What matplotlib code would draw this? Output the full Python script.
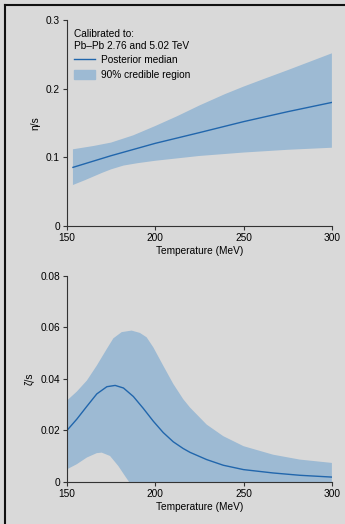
import matplotlib
matplotlib.use('Agg')
import matplotlib.pyplot as plt
from matplotlib.lines import Line2D
from matplotlib.patches import Patch

plt.rcParams['font.family'] = ['Liberation Sans', 'DejaVu Sans']

# eta/s (верхняя панель)
T_eta_med = [153.4, 175, 200, 225, 250, 275, 300]
eta_med = [0.0854, 0.1024, 0.1204, 0.136, 0.152, 0.1665, 0.180]
T_eta_hi = [153.4, 165, 175, 187.5, 200, 212.5, 225, 239.4, 250, 262, 275, 300]
eta_hi = [0.1117, 0.1165, 0.1215, 0.132, 0.1456, 0.160, 0.1755, 0.192, 0.2030, 0.2146, 0.227, 0.2515]
T_eta_lo = [153.4, 160, 165, 170, 175, 182, 190, 200, 225, 250, 275, 300]
eta_lo = [0.0597, 0.0665, 0.072, 0.0775, 0.0825, 0.088, 0.0915, 0.095, 0.102, 0.107, 0.111, 0.114]

# zeta/s (нижняя панель)
T_zeta_med = [150, 155.6, 161.3, 166.9, 172.6, 177.3, 182, 187.6, 193.2, 198.9, 204.5, 210.2, 215.8,
              219.7, 229.1, 238.5, 250, 266.7, 281.8, 300]
zeta_med = [0.0200, 0.0244, 0.0294, 0.0342, 0.0370, 0.0375, 0.0365, 0.0332, 0.0286, 0.0236, 0.0192,
            0.0156, 0.0130, 0.0115, 0.0087, 0.0065, 0.0048, 0.0035, 0.0026, 0.0019]
T_zeta_hi = [150, 155.6, 161.3, 166.9, 172.6, 176.3, 181, 186.6, 191.3, 195.1, 198.9, 204.5, 210.2,
             215.8, 219.7, 229.1, 238.5, 250, 266.7, 281.8, 300]
zeta_hi = [0.0316, 0.0351, 0.0394, 0.0452, 0.0517, 0.0558, 0.0582, 0.0588, 0.0579, 0.0562, 0.0523,
           0.0452, 0.0381, 0.0322, 0.0289, 0.0223, 0.0178, 0.0139, 0.0106, 0.0087, 0.0074]
T_zeta_lo = [150, 155.6, 161.3, 166.9, 169.7, 174.4, 179.1, 182.9, 185.2, 300]
zeta_lo = [0.0049, 0.0069, 0.0095, 0.0112, 0.0114, 0.0101, 0.0062, 0.0023, 0.0, 0.0]

bg = '#d9d9d9'
line_c = '#2166ac'
fill_c = '#9dbad3'
fs = 7.3

fig = plt.figure(figsize=(3.45, 5.24), dpi=100, facecolor=bg)
# рамка слева и сверху
fig.add_artist(Line2D([5 / 345, 5 / 345], [0, 1 - 5 / 524], color='#111111', lw=1.5, transform=fig.transFigure))
fig.add_artist(Line2D([5 / 345, 1], [1 - 5 / 524, 1 - 5 / 524], color='#111111', lw=1.5, transform=fig.transFigure))

ax1 = fig.add_axes([0.194, 0.5687, 0.768, 0.3931])
ax2 = fig.add_axes([0.194, 0.0802, 0.768, 0.3931])

for ax in (ax1, ax2):
    ax.set_facecolor(bg)
    ax.spines['top'].set_visible(False)
    ax.spines['right'].set_visible(False)
    ax.spines['left'].set_color('#333333')
    ax.spines['bottom'].set_color('#333333')
    ax.spines['left'].set_linewidth(0.8)
    ax.spines['bottom'].set_linewidth(0.8)
    ax.tick_params(labelsize=fs, length=3, width=0.8, color='#333333', pad=2)
    ax.set_xlim(150, 300)
    ax.set_xticks([150, 200, 250, 300])
    ax.set_xlabel('Temperature (MeV)', fontsize=fs, labelpad=2)


def band(ax, t_hi, hi, t_lo, lo):
    # многоугольник: верхняя граница вперёд, нижняя назад
    ax.fill(list(t_hi) + list(t_lo)[::-1], list(hi) + list(lo)[::-1], color=fill_c, lw=0)


band(ax1, T_eta_hi, eta_hi, T_eta_lo, eta_lo)
ax1.plot(T_eta_med, eta_med, color=line_c, lw=1)
ax1.set_ylim(0, 0.3)
ax1.set_yticks([0, 0.1, 0.2, 0.3])
ax1.set_yticklabels(['0', '0.1', '0.2', '0.3'])
ax1.set_ylabel('η/s', fontsize=fs, labelpad=4)

handles = [Line2D([], [], color=line_c, lw=1), Patch(color=fill_c)]
leg = ax1.legend(handles, ['Posterior median', '90% credible region'],
                 title='Calibrated to:\nPb–Pb 2.76 and 5.02 TeV', loc='upper left',
                 bbox_to_anchor=(0.0, 0.99), frameon=False, fontsize=fs, title_fontsize=fs,
                 handlelength=2.1, handleheight=0.9, handletextpad=0.6, labelspacing=0.45,
                 alignment='left', borderaxespad=0.3)

band(ax2, T_zeta_hi, zeta_hi, T_zeta_lo, zeta_lo)
ax2.plot(T_zeta_med, zeta_med, color=line_c, lw=1)
ax2.set_ylim(0, 0.08)
ax2.set_yticks([0, 0.02, 0.04, 0.06, 0.08])
ax2.set_yticklabels(['0', '0.02', '0.04', '0.06', '0.08'])
ax2.set_ylabel('ζ/s', fontsize=fs, labelpad=4)

fig.savefig('out.png', dpi=100, facecolor=bg)
